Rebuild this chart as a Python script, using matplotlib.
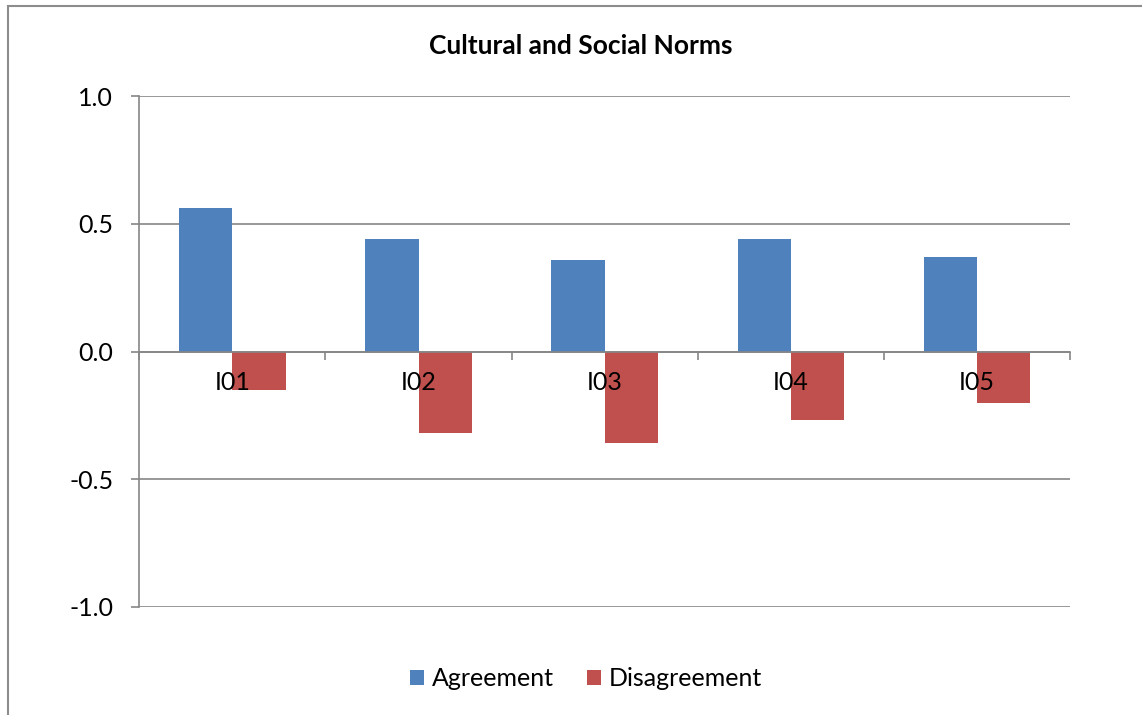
import matplotlib
matplotlib.use("Agg")
import matplotlib.pyplot as plt
from matplotlib.patches import Rectangle
import numpy as np

categories = ["I01", "I02", "I03", "I04", "I05"]
agreement = [0.56, 0.44, 0.36, 0.44, 0.37]
disagreement = [-0.15, -0.32, -0.36, -0.27, -0.20]
y_ticks = [-1.0, -0.5, 0.0, 0.5, 1.0]

plt.rcParams["font.family"] = ["Lato", "DejaVu Sans"]

W, H = 1142, 715
PX = 72 / 100  # points per pixel at dpi 100
fig = plt.figure(figsize=(W / 100, H / 100), dpi=100)

# outer chart frame (cut off on right and bottom like the source)
fig.patches.append(Rectangle((8 / W, -0.1), 2.0, (H - 6) / H + 0.1,
                             transform=fig.transFigure, fill=False,
                             edgecolor="#8c8c8c", linewidth=1.5, zorder=0))

ax = fig.add_axes([139.3 / W, 108 / H, (1070 - 139.3) / W, (607 - 96) / H])

x = np.arange(len(categories))
bw = 0.286
blue = "#4f81bd"
red = "#c0504d"
grid_c = "#868686"

ax.bar(x - bw / 2, agreement, bw, color=blue, label="Agreement", zorder=3)
ax.bar(x + bw / 2, disagreement, bw, color=red, label="Disagreement", zorder=3)

ax.set_xlim(-0.5, len(categories) - 0.5)
ax.set_ylim(-1.0, 1.0)

for s in ["top", "right"]:
    ax.spines[s].set_visible(False)
ax.spines["left"].set_color(grid_c)
ax.spines["left"].set_linewidth(1.2)
ax.spines["bottom"].set_position(("data", 0))
ax.spines["bottom"].set_color(grid_c)
ax.spines["bottom"].set_linewidth(1.2)
ax.spines["bottom"].set_zorder(4)

ax.set_yticks(y_ticks)
ax.set_yticklabels(["%.1f" % v for v in y_ticks])
ax.tick_params(axis="y", length=8 * PX, width=1.2, color=grid_c, labelsize=18, pad=18 * PX)
ax.yaxis.grid(True, color=grid_c, linewidth=1.2, zorder=0)

ax.set_xticks(x)
ax.set_xticklabels(categories)
ax.set_xticks(np.arange(-0.5, len(categories)), minor=True)
ax.tick_params(axis="x", which="major", length=0, labelsize=18, pad=14)
ax.tick_params(axis="x", which="minor", length=8 * PX, width=1.2, color=grid_c, direction="out")
# category labels sit on top of the bars
ax.xaxis.set_zorder(5)

fig.text(581 / W, 1 - 46 / H, "Cultural and Social Norms", ha="center", va="center",
         fontsize=19, fontweight="bold")

fig.legend(loc="center", bbox_to_anchor=(586 / W, 1 - 679 / H), ncol=2, frameon=False,
           fontsize=18, handlelength=0.56, handleheight=0.56, handletextpad=0.32,
           columnspacing=1.3)

fig.savefig("out.png", dpi=100)
